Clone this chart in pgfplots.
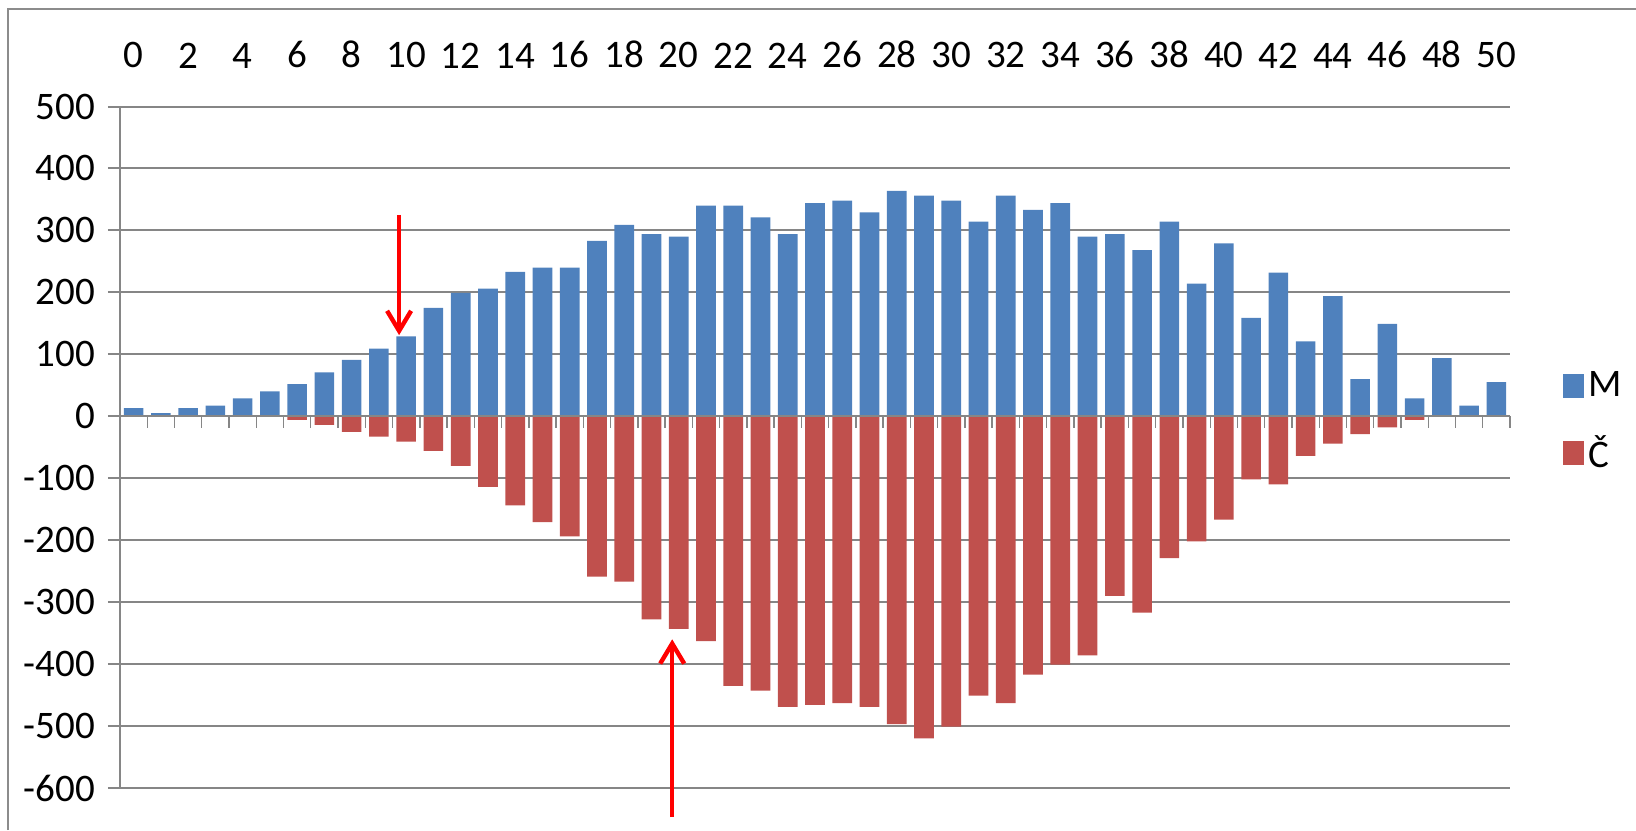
\documentclass[border=0pt]{standalone}
\usepackage{fontspec}
\setmainfont{Carlito}
\usepackage{pgfplots}
\pgfplotsset{compat=1.18}
\usetikzlibrary{arrows.meta}
\definecolor{barM}{HTML}{4F81BD}
\definecolor{barC}{HTML}{C0504D}
\definecolor{gridgray}{HTML}{868686}
\definecolor{framegray}{HTML}{8C8C8C}
\newcommand{\chartfont}{\fontsize{19.5}{23}\selectfont}

\begin{document}
\begin{tikzpicture}
\useasboundingbox (-60pt,-21pt) rectangle (758pt,394pt);
% chart area frame
\draw[framegray, line width=1.2pt] (-56pt,-21pt) -- (-56pt,389.5pt) -- (758pt,389.5pt);
\begin{axis}[
  at={(0,0)}, anchor=south west,
  scale only axis, width=695pt, height=340.75pt,
  xmin=-0.5, xmax=50.5, ymin=-600, ymax=500,
  ybar, bar width=0.72, bar shift=0pt,
  xtick={0,2,...,50}, xticklabel pos=upper,
  x tick style={draw=none},
  xticklabel style={yshift=9.6pt},
  ytick={-600,-500,...,500}, ytick pos=left,
  yticklabel style={xshift=-3pt},
  tick align=outside,
  y tick style={gridgray, line width=1pt}, major tick length=6pt,
  ymajorgrids, grid style={gridgray, line width=1pt},
  axis line style={draw=none},
  tick label style={font=\chartfont},
  /pgf/number format/assume math mode=true,
  clip=false,
  legend cell align=left,
  legend style={draw=none, fill=none, at={(1.0381,0.5385)}, anchor=west,
    inner sep=0pt, font=\chartfont, row sep=14pt},
  legend image code/.code={\fill[#1] (0pt,-6pt) rectangle (10.5pt,6pt);},
]
% M
\addplot[fill=barM, draw=none] coordinates {
(0,13) (1,5) (2,13) (3,17) (4,29) (5,40) (6,52) (7,71) (8,91) (9,109)
(10,129) (11,175) (12,199) (13,206) (14,233) (15,240) (16,240) (17,283) (18,309) (19,294)
(20,290) (21,340) (22,340) (23,321) (24,294) (25,344) (26,348) (27,329) (28,364) (29,356)
(30,348) (31,314) (32,356) (33,333) (34,344) (35,290) (36,294) (37,268) (38,314) (39,214)
(40,279) (41,159) (42,232) (43,121) (44,194) (45,60) (46,149) (47,29) (48,94) (49,17)
(50,55)};
% Č
\addplot[fill=barC, draw=none] coordinates {
(6,-6) (7,-14) (8,-25) (9,-33)
(10,-41) (11,-56) (12,-80) (13,-114) (14,-144) (15,-171) (16,-194) (17,-259) (18,-267) (19,-328)
(20,-343) (21,-363) (22,-435) (23,-443) (24,-469) (25,-466) (26,-463) (27,-469) (28,-497) (29,-520)
(30,-501) (31,-451) (32,-463) (33,-417) (34,-401) (35,-386) (36,-290) (37,-317) (38,-229) (39,-202)
(40,-167) (41,-102) (42,-110) (43,-64) (44,-44) (45,-29) (46,-18) (47,-6)};
\legend{M, Č}
% axis lines
\draw[gridgray, line width=0.6pt] (axis cs:-0.5,-600) -- (axis cs:-0.5,500);
\draw[gridgray, line width=1pt] (axis cs:-0.5,0) -- (axis cs:50.5,0);
\pgfplotsinvokeforeach{-0.5,0.5,...,50.5}{
  \draw[gridgray, line width=0.7pt] (axis cs:#1,0) -- ++(0pt,-6pt);
}
% markers
\draw[red, line width=2.2pt, -{Straight Barb[length=10pt, width=12pt]}]
  (axis cs:9.74,325) -- (axis cs:9.74,131);
\draw[red, line width=2.2pt, -{Straight Barb[length=10pt, width=12pt]}]
  (axis cs:19.76,-647) -- (axis cs:19.76,-360);
\end{axis}
\end{tikzpicture}
\end{document}
